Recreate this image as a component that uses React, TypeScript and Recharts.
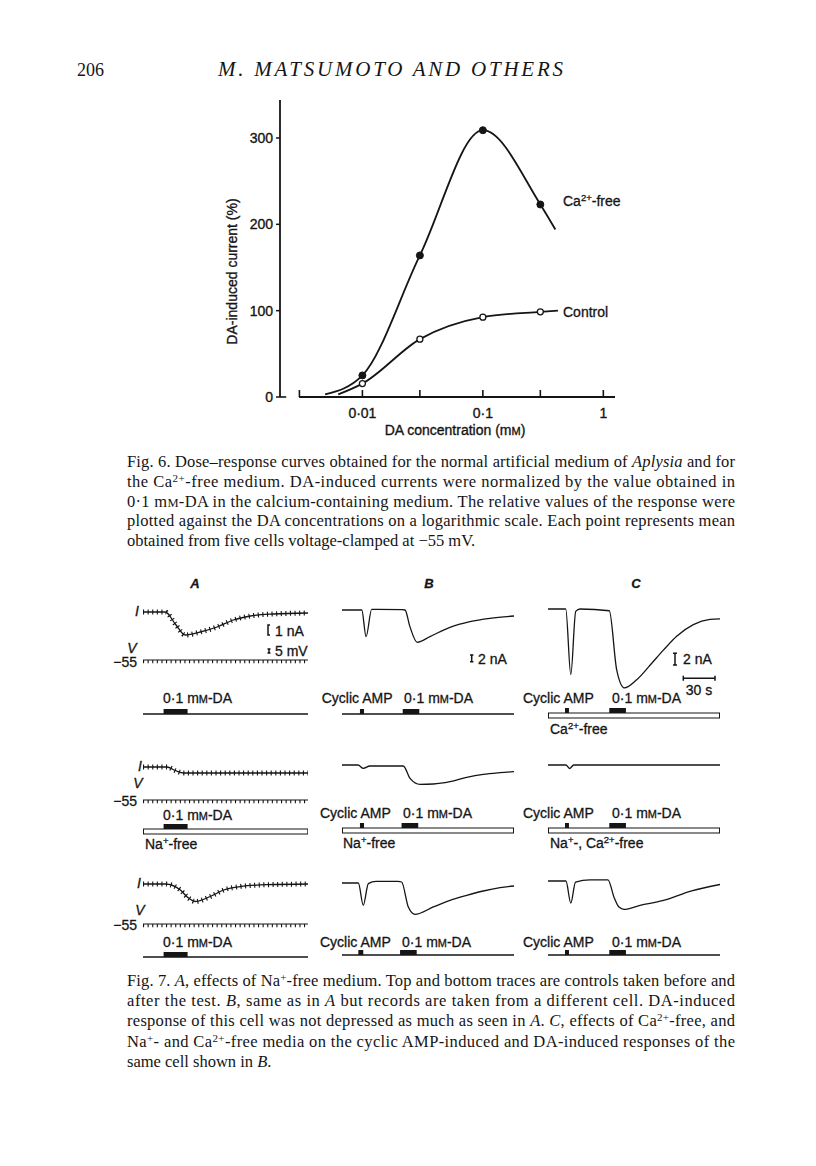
import React from "react";
import {
  ComposedChart,
  LineChart,
  Line,
  XAxis,
  YAxis,
  ReferenceLine,
  ReferenceArea,
  Label,
} from "recharts";

const INK = "#151515";
const SANS = "'Liberation Sans', Arial, Helvetica, sans-serif";
const SERIF = "'Liberation Serif', 'Times New Roman', serif";

// ---------- Fig. 6: dose-response (DA in mM, current in %) ----------
const concTicks = [0.003, 0.01, 0.03, 0.1, 0.3, 1];
const concTickLabels: Record<string, string> = { "0.01": "0·01", "0.1": "0·1", "1": "1" };
const currentTicks = [0, 100, 200, 300];
const doses = [0.01, 0.03, 0.1, 0.3];
const caFreeMeans = [25, 164, 309, 223];
const controlMeans = [15.5, 67, 92.5, 98.6];
// ends of the hand-drawn curves
const caFreeCurveStart = [0.0049, 3];
const caFreeCurveEnd = [0.4, 194];
const controlCurveStart = [0.0063, 3];
const controlCurveEnd = [0.42, 100];

const caFreePoints = doses.map((x, i) => ({ x, y: caFreeMeans[i] }));
const controlPoints = doses.map((x, i) => ({ x, y: controlMeans[i] }));
const caFreeCurve = [
  { x: caFreeCurveStart[0], y: caFreeCurveStart[1] },
  ...caFreePoints,
  { x: caFreeCurveEnd[0], y: caFreeCurveEnd[1] },
];
const controlCurve = [
  { x: controlCurveStart[0], y: controlCurveStart[1] },
  ...controlPoints,
  { x: controlCurveEnd[0], y: controlCurveEnd[1] },
];

// ---------- Fig. 7: membrane current traces [time s, current nA] ----------
type Pt = [number, number];
const traceA1: Pt[] = [[0, 0], [20.9, 0], [30.3, -1.2], [39.7, -2.3], [53.7, -2.0], [69.4, -1.5], [84.7, -0.8], [100.6, -0.4], [122.2, -0.2], [155, -0.1]];
const traceB1: Pt[] = [[0, 0], [18.4, 0], [22.4, -8.0], [27.6, 0.2], [33, 0.2], [56, 0.1], [58.6, 0], [63.2, -5], [70, -9.7], [81.8, -8.0], [100.4, -5.2], [119, -3.5], [137.6, -2.5], [160, -1.8]];
const traceC1: Pt[] = [[0, 0], [16.5, 0], [21.2, -11.3], [25.8, -0.4], [29.8, 0], [57, -0.3], [63.9, -10.5], [71, -13.6], [82.5, -12.2], [94.9, -9.7], [107.3, -7.1], [119.7, -4.7], [135.2, -2.7], [150.7, -1.8], [160, -1.7]];
const traceA2: Pt[] = [[0, 0], [22.5, 0], [30.3, -0.35], [38, -0.6], [155, -0.6]];
const traceB2: Pt[] = [[0, 0], [14.9, 0], [19.8, -1.0], [26, -0.3], [57, -0.3], [63.3, -4.0], [72.6, -5.8], [84.9, -5.7], [100.5, -5.0], [116, -3.7], [131.4, -2.8], [147, -2.3], [160, -2.0]];
const traceC2: Pt[] = [[0, 0], [16.7, 0], [20, -0.6], [24, 0], [160, 0]];
const traceA3: Pt[] = [[0, 0], [20.9, 0], [35, -0.6], [41.5, -1.3], [49, -1.75], [63.1, -1.25], [75.6, -0.6], [91.2, -0.25], [116.3, -0.07], [155, 0]];
const traceB3: Pt[] = [[0, 0], [15.2, 0], [19.8, -6.7], [24.5, -0.2], [31.6, 0.5], [52, 0.5], [55.5, 0.3], [61.7, -7.2], [67.9, -9.4], [84.9, -7.2], [100.5, -5.2], [116, -3.7], [131.4, -2.4], [147, -1.4], [160, -0.9]];
const traceC3: Pt[] = [[0, 0], [16.7, 0], [21.2, -3.8], [25.6, -0.2], [39, 0.2], [55.8, 0.2], [61.4, -2.8], [66, -4.5], [70.7, -4.9], [85.6, -4.2], [106.5, -3.4], [133.7, -1.7], [160, -0.6]];

const holdingMv = -55;
const pulseMv = 3.5;

// stimulus timings [start s, end s]
const daA: Pt[] = [[19.3, 41.8]];
const stimB1: Pt[] = [[16.7, 20.5], [56.5, 71.9]];
const stimB2: Pt[] = [[16.7, 20.5], [55.4, 70.9]];
const stimB3: Pt[] = [[15.2, 19.8], [54, 69.5]];
const stimC: Pt[] = [[15.8, 19.5], [57, 72.5]];

// ---------- Fig. 6 chart ----------
function ConcTick({ x, y, payload }: any) {
  const lab = concTickLabels[String(payload.value)];
  return (
    <g>
      <line x1={x} x2={x} y1={y} y2={y - 7} stroke={INK} strokeWidth={1.6} />
      {lab && (
        <text x={x} y={y + 21} textAnchor="middle" fontFamily={SANS} fontSize={14} fill={INK} stroke={INK} strokeWidth={0.35}>
          {lab}
        </text>
      )}
    </g>
  );
}

function XTitle({ viewBox }: any) {
  const cx = viewBox.x + viewBox.width / 2 + 7.5;
  return (
    <text x={cx} y={viewBox.y + 38} textAnchor="middle" fontFamily={SANS} fontSize={14} fill={INK} stroke={INK} strokeWidth={0.35}>
      DA concentration (m<tspan fontSize={11}>M</tspan>)
    </text>
  );
}

function YTitle({ viewBox }: any) {
  const cx = viewBox.x + 32;
  const cy = viewBox.y + viewBox.height / 2 + 23;
  return (
    <text x={cx} y={cy} dy={5} transform={`rotate(-90, ${cx}, ${cy})`} textAnchor="middle" fontFamily={SANS} fontSize={14} fill={INK} stroke={INK} strokeWidth={0.35}>
      DA-induced current (%)
    </text>
  );
}

function DoseResponse() {
  return (
    <div style={{ position: "absolute", left: 200, top: 80 }}>
      <ComposedChart width={440} height={370} margin={{ top: 20, right: 25, bottom: 3, left: 0 }}>
        <XAxis
          dataKey="x"
          type="number"
          scale="log"
          domain={[0.00207, 1.25]}
          allowDataOverflow
          ticks={concTicks}
          interval={0}
          tick={<ConcTick />}
          tickLine={false}
          axisLine={false}
          tickSize={0}
          tickMargin={0}
          height={50}
        >
          <Label content={(p: any) => <XTitle {...p} />} />
        </XAxis>
        <YAxis
          dataKey="y"
          type="number"
          domain={[0, 344]}
          allowDataOverflow
          ticks={currentTicks}
          interval={0}
          width={80}
          tickSize={4}
          tickMargin={3}
          tick={{ fontFamily: SANS, fontSize: 14, fill: INK, stroke: INK, strokeWidth: 0.35 }}
          axisLine={{ stroke: INK, strokeWidth: 1.8 }}
          tickLine={{ stroke: INK, strokeWidth: 1.5 }}
        >
          <Label content={(p: any) => <YTitle {...p} />} />
        </YAxis>
        <ReferenceLine segment={[{ x: 0.00298, y: 0 }, { x: 1.25, y: 0 }]} stroke={INK} strokeWidth={1.8} />
        <ReferenceLine segment={[{ x: 0.00207, y: 0 }, { x: 0.00233, y: 0 }]} stroke={INK} strokeWidth={1.6} />
        <Line data={caFreeCurve} dataKey="y" type="monotone" stroke={INK} strokeWidth={1.8} dot={false} isAnimationActive={false} />
        <Line data={controlCurve} dataKey="y" type="monotone" stroke={INK} strokeWidth={1.8} dot={false} isAnimationActive={false} />
        <Line data={caFreePoints} dataKey="y" stroke="none" dot={{ r: 3.5, fill: INK, stroke: INK, strokeWidth: 1 }} isAnimationActive={false} />
        <Line data={controlPoints} dataKey="y" stroke="none" dot={{ r: 3, fill: "#fff", stroke: INK, strokeWidth: 1.3 }} isAnimationActive={false} />
      </ComposedChart>
    </div>
  );
}

// ---------- Fig. 7 pieces ----------
function Trace({ left, width, base, pxPerNa, tMax, points, hatch }: { left: number; width: number; base: number; pxPerNa: number; tMax: number; points: Pt[]; hatch?: boolean }) {
  const above = 8;
  const below = 90;
  const rows = points.map(([t, v]) => ({ t, v }));
  return (
    <div style={{ position: "absolute", left, top: base - above }}>
      <LineChart width={width} height={above + below} data={rows} margin={{ top: 0, right: 0, bottom: 0, left: 0 }}>
        <XAxis dataKey="t" type="number" domain={[0, tMax]} hide />
        <YAxis type="number" domain={[-below / pxPerNa, above / pxPerNa]} hide allowDataOverflow />
        {hatch && <Line dataKey="v" type="monotone" stroke={INK} strokeWidth={5} strokeDasharray="1.1 3.5" dot={false} isAnimationActive={false} />}
        <Line dataKey="v" type="monotone" stroke={INK} strokeWidth={1.3} dot={false} isAnimationActive={false} />
      </LineChart>
    </div>
  );
}

function Voltage({ left, width, y, tMax }: { left: number; width: number; y: number; tMax: number }) {
  const pxPerMv = 0.9;
  const rows = [0, tMax].map((t) => ({ t, v: holdingMv, p: holdingMv - pulseMv / 2 }));
  return (
    <div style={{ position: "absolute", left, top: y - 5 }}>
      <LineChart width={width} height={12} data={rows} margin={{ top: 0, right: 0, bottom: 0, left: 0 }}>
        <XAxis dataKey="t" type="number" domain={[0, tMax]} hide />
        <YAxis type="number" domain={[holdingMv - 7 / pxPerMv, holdingMv + 5 / pxPerMv]} hide allowDataOverflow />
        <Line dataKey="p" stroke={INK} strokeWidth={pulseMv * pxPerMv} strokeDasharray="1.1 3.5" dot={false} isAnimationActive={false} />
        <Line dataKey="v" stroke={INK} strokeWidth={1.2} dot={false} isAnimationActive={false} />
      </LineChart>
    </div>
  );
}

function Stim({ left, width, lineY, tMax, marks, medium }: { left: number; width: number; lineY: number; tMax: number; marks: Pt[]; medium?: boolean }) {
  const rows = [0, tMax].map((t) => ({ t, s: 0 }));
  return (
    <div style={{ position: "absolute", left, top: lineY - 8 }}>
      <LineChart width={width} height={16} data={rows} margin={{ top: 0, right: 0, bottom: 0, left: 0 }}>
        <XAxis dataKey="t" type="number" domain={[0, tMax]} hide allowDataOverflow />
        <YAxis type="number" domain={[-1.6, 1.6]} hide allowDataOverflow />
        {medium && (
          <ReferenceArea x1={0.4} x2={tMax - 0.4} y1={-1} y2={0} fill="#fff" fillOpacity={1} stroke={INK} strokeWidth={1.1} ifOverflow="visible" />
        )}
        <Line dataKey="s" stroke={medium ? "none" : INK} strokeWidth={1.3} dot={false} isAnimationActive={false} />
        {marks.map(([a, b], i) => (
          <ReferenceArea key={i} x1={a} x2={b} y1={0} y2={1} fill={INK} fillOpacity={1} stroke="none" ifOverflow="visible" />
        ))}
      </LineChart>
    </div>
  );
}

// ---------- page text ----------
function S({ x, y, children, anchor = "start", size = 14, italic = false, bold = false }: any) {
  return (
    <text x={x} y={y} textAnchor={anchor} fontFamily={SANS} fontSize={size} fill={INK} stroke={INK} strokeWidth={0.3} fontStyle={italic ? "italic" : "normal"} fontWeight={bold ? "bold" : "normal"}>
      {children}
    </text>
  );
}

const mM = (size: number) => (
  <>
    m<tspan fontSize={size * 0.78}>M</tspan>
  </>
);

function Da({ x, y }: { x: number; y: number }) {
  return (
    <S x={x} y={y}>
      0·1 {mM(14)}-DA
    </S>
  );
}

function Ion({ x, y, parts }: { x: number; y: number; parts: [string, string][] }) {
  return (
    <S x={x} y={y}>
      {parts.map(([base, sup], i) => (
        <React.Fragment key={i}>
          <tspan dy={i === 0 ? 0 : 5}>{base}</tspan>
          {sup && (
            <tspan fontSize={9.5} dy={-5}>
              {sup}
            </tspan>
          )}
        </React.Fragment>
      ))}
    </S>
  );
}

function Cap({ y, w, children }: any) {
  return (
    <text x={127} y={y} fontFamily={SERIF} fontSize={16.5} fill={INK} textLength={w} lengthAdjust={w ? "spacing" : undefined}>
      {children}
    </text>
  );
}

const Sup = ({ s }: { s: string }) => (
  <tspan fontSize={11} dy={-5.5}>
    {s}
  </tspan>
);

function PageText() {
  const it = (s: string) => <tspan fontStyle="italic">{s}</tspan>;
  return (
    <svg width={816} height={1166} style={{ position: "absolute", left: 0, top: 0, pointerEvents: "none" }}>
      {/* running head */}
      <text x={77} y={76} fontFamily={SERIF} fontSize={18} fill={INK}>206</text>
      <text x={218} y={76} fontFamily={SERIF} fontSize={21} fontStyle="italic" fill={INK} textLength={345} lengthAdjust="spacing">
        M. MATSUMOTO AND OTHERS
      </text>

      {/* Fig. 6 curve labels */}
      <Ion x={563} y={206} parts={[["Ca", "2+"], ["-free", ""]]} />
      <S x={563} y={317}>Control</S>

      {/* Fig. 6 caption */}
      <Cap y={467} w={608}>
        Fig. 6. Dose–response curves obtained for the normal artificial medium of {it("Aplysia")} and for
      </Cap>
      <Cap y={487} w={608}>
        the Ca<Sup s="2+" /><tspan dy={5.5}>-free medium. DA-induced currents were normalized by the value obtained in</tspan>
      </Cap>
      <Cap y={507} w={608}>
        0·1 m<tspan fontSize={12.5}>M</tspan>-DA in the calcium-containing medium. The relative values of the response were
      </Cap>
      <Cap y={526} w={608}>
        plotted against the DA concentrations on a logarithmic scale. Each point represents mean
      </Cap>
      <Cap y={546}>obtained from five cells voltage-clamped at  −55 mV.</Cap>

      {/* Fig. 7 headings */}
      <S x={195} y={588} anchor="middle" size={13} italic bold>A</S>
      <S x={429} y={588} anchor="middle" size={13} italic bold>B</S>
      <S x={636} y={588} anchor="middle" size={13} italic bold>C</S>

      {/* row 1 */}
      <S x={137} y={616} anchor="middle" italic>I</S>
      <S x={132} y={653} anchor="middle" italic>V</S>
      <S x={137} y={667} anchor="end">−55</S>
      <S x={275} y={636}>1 nA</S>
      <S x={275} y={656}>5 mV</S>
      <Da x={163} y={703} />
      <S x={478} y={664}>2 nA</S>
      <S x={321.7} y={703}>Cyclic AMP</S>
      <Da x={404} y={703} />
      <S x={683} y={664}>2 nA</S>
      <S x={699} y={695} anchor="middle">30 s</S>
      <S x={523} y={703}>Cyclic AMP</S>
      <Da x={612} y={703} />
      <Ion x={550} y={734} parts={[["Ca", "2+"], ["-free", ""]]} />

      {/* row 2 */}
      <S x={140} y={771} anchor="middle" italic>I</S>
      <S x={138} y={788} anchor="middle" italic>V</S>
      <S x={137} y={806} anchor="end">−55</S>
      <Da x={163} y={820} />
      <Ion x={145} y={849} parts={[["Na", "+"], ["-free", ""]]} />
      <S x={320} y={818}>Cyclic AMP</S>
      <Da x={403} y={818} />
      <Ion x={343} y={848} parts={[["Na", "+"], ["-free", ""]]} />
      <S x={523} y={818}>Cyclic AMP</S>
      <Da x={612} y={818} />
      <Ion x={550} y={848} parts={[["Na", "+"], ["-, Ca", "2+"], ["-free", ""]]} />

      {/* row 3 */}
      <S x={139} y={888} anchor="middle" italic>I</S>
      <S x={140} y={915} anchor="middle" italic>V</S>
      <S x={137} y={930} anchor="end">−55</S>
      <Da x={163} y={947} />
      <S x={320} y={947}>Cyclic AMP</S>
      <Da x={402} y={947} />
      <S x={523} y={947}>Cyclic AMP</S>
      <Da x={612} y={947} />

      {/* calibration bars */}
      <g stroke={INK} strokeWidth={1.5} fill="none">
        <path d="M270 625 H268 V635 H270" />
        <path d="M267.5 649 H270.5 M269 649 V653 M267.5 653 H270.5" />
        <path d="M470 655 H473.4 M471.7 655 V661.7 M470 661.7 H473.4" />
        <path d="M673 653.3 H677 M675 653.3 V665 M673 665 H677" />
        <path d="M683.3 678.3 H715 M683.3 675.8 V680.8 M715 675.8 V680.8" />
      </g>

      {/* Fig. 7 caption */}
      <Cap y={986} w={608}>
        Fig. 7. {it("A")}, effects of Na<Sup s="+" /><tspan dy={5.5}>-free medium. Top and bottom traces are controls taken before and</tspan>
      </Cap>
      <Cap y={1006} w={608}>
        after the test. {it("B")}, same as in {it("A")} but records are taken from a different cell. DA-induced
      </Cap>
      <Cap y={1026} w={608}>
        response of this cell was not depressed as much as seen in {it("A")}. {it("C")}, effects of Ca<Sup s="2+" /><tspan dy={5.5}>-free, and</tspan>
      </Cap>
      <Cap y={1047} w={608}>
        Na<Sup s="+" /><tspan dy={5.5}>- and Ca</tspan><Sup s="2+" /><tspan dy={5.5}>-free media on the cyclic AMP-induced and DA-induced responses of the</tspan>
      </Cap>
      <Cap y={1067}>same cell shown in {it("B")}.</Cap>
    </svg>
  );
}

export default function App() {
  const A = { left: 142.7, width: 165.3, tMax: 155, px: 10 };
  const B = { left: 342, width: 172, tMax: 160, px: 3.33 };
  const C = { left: 548, width: 172, tMax: 160, px: 5.8 };
  return (
    <div style={{ position: "absolute", left: 0, top: 0, width: 816, height: 1166, background: "#fff", overflow: "hidden" }}>
      <DoseResponse />

      {/* row 1 */}
      <Trace left={A.left} width={A.width} base={612} pxPerNa={A.px} tMax={A.tMax} points={traceA1} hatch />
      <Voltage left={A.left} width={A.width} y={660} tMax={A.tMax} />
      <Stim left={A.left} width={A.width} lineY={714} tMax={A.tMax} marks={daA} />
      <Trace left={B.left} width={B.width} base={610} pxPerNa={B.px} tMax={B.tMax} points={traceB1} />
      <Stim left={B.left} width={B.width} lineY={714} tMax={B.tMax} marks={stimB1} />
      <Trace left={C.left} width={C.width} base={609.3} pxPerNa={C.px} tMax={C.tMax} points={traceC1} />
      <Stim left={C.left} width={C.width} lineY={713.3} tMax={C.tMax} marks={stimC} medium />

      {/* row 2 */}
      <Trace left={A.left} width={A.width} base={766.7} pxPerNa={A.px} tMax={A.tMax} points={traceA2} hatch />
      <Voltage left={A.left} width={A.width} y={800} tMax={A.tMax} />
      <Stim left={A.left} width={A.width} lineY={829} tMax={A.tMax} marks={daA} medium />
      <Trace left={B.left} width={B.width} base={765} pxPerNa={B.px} tMax={B.tMax} points={traceB2} />
      <Stim left={B.left} width={B.width} lineY={827.7} tMax={B.tMax} marks={stimB2} medium />
      <Trace left={C.left} width={C.width} base={765} pxPerNa={C.px} tMax={C.tMax} points={traceC2} />
      <Stim left={C.left} width={C.width} lineY={828} tMax={C.tMax} marks={stimC} medium />

      {/* row 3 */}
      <Trace left={A.left} width={A.width} base={884.3} pxPerNa={A.px} tMax={A.tMax} points={traceA3} hatch />
      <Voltage left={A.left} width={A.width} y={924} tMax={A.tMax} />
      <Stim left={A.left} width={A.width} lineY={956.7} tMax={A.tMax} marks={daA} />
      <Trace left={B.left} width={B.width} base={882.7} pxPerNa={B.px} tMax={B.tMax} points={traceB3} />
      <Stim left={B.left} width={B.width} lineY={955} tMax={B.tMax} marks={stimB3} />
      <Trace left={C.left} width={C.width} base={880.7} pxPerNa={C.px} tMax={C.tMax} points={traceC3} />
      <Stim left={C.left} width={C.width} lineY={955} tMax={C.tMax} marks={stimC} />

      <PageText />
    </div>
  );
}
